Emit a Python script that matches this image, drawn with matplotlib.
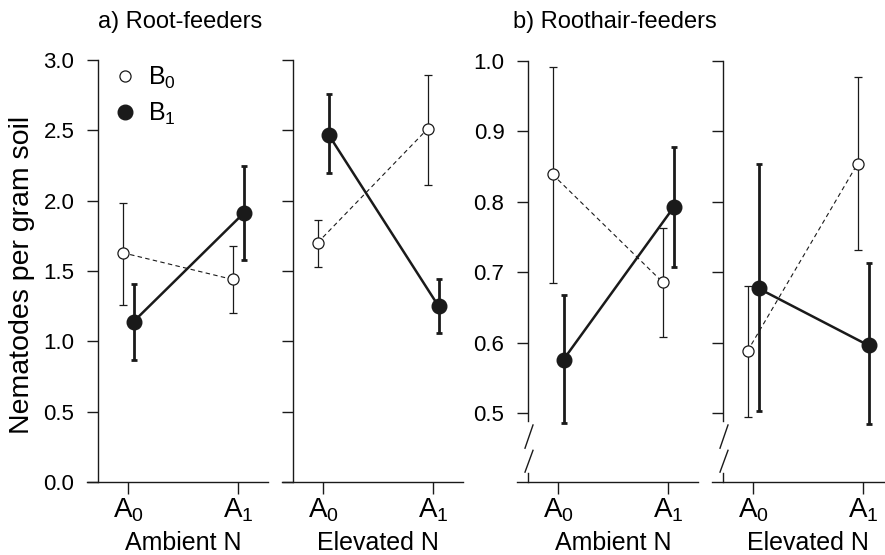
import matplotlib
matplotlib.use("Agg")
import matplotlib.pyplot as plt
from matplotlib.transforms import blended_transform_factory

plt.rcParams["font.family"] = ["Liberation Sans", "DejaVu Sans"]
plt.rcParams["mathtext.default"] = "regular"

# x levels (A0, A1) and panel labels
levels = [r"$A_0$", r"$A_1$"]
n_labels = ["Ambient N", "Elevated N"]

# Root-feeders: [ambient, elevated] x [A0, A1]
root_b0 = [[1.63, 1.44], [1.70, 2.51]]
root_b0_lo = [[1.26, 1.20], [1.53, 2.11]]
root_b0_hi = [[1.98, 1.68], [1.86, 2.89]]
root_b1 = [[1.14, 1.91], [2.47, 1.25]]
root_b1_lo = [[0.87, 1.58], [2.20, 1.06]]
root_b1_hi = [[1.41, 2.25], [2.76, 1.44]]

# Roothair-feeders
hair_b0 = [[0.839, 0.686], [0.588, 0.854]]
hair_b0_lo = [[0.685, 0.608], [0.494, 0.732]]
hair_b0_hi = [[0.992, 0.763], [0.681, 0.977]]
hair_b1 = [[0.576, 0.792], [0.677, 0.596]]
hair_b1_lo = [[0.486, 0.708], [0.503, 0.484]]
hair_b1_hi = [[0.668, 0.878], [0.854, 0.713]]

INK = "#1a1a1a"
W, H = 885, 555
fig = plt.figure(figsize=(W / 100, H / 100), dpi=100)

lefts = [87, 282, 517, 712]
tops = [60, 60, 61, 61]
bottom = 482
width = 181
spine_frac = 11 / width
off = 0.05


def draw_group(ax, mean, lo, hi, filled):
    x = [0 - off, 1 - off] if not filled else [0 + off, 1 + off]
    yerr = [[m - l for m, l in zip(mean, lo)], [h - m for m, h in zip(mean, hi)]]
    if filled:
        ax.errorbar(x, mean, yerr=yerr, fmt="none", ecolor=INK, elinewidth=2.0,
                    capsize=2.3, capthick=2.0, clip_on=False, zorder=2)
        ax.plot(x, mean, "-", color=INK, lw=1.8, marker="o", ms=10.5,
                mfc=INK, mec=INK, clip_on=False, zorder=3)
    else:
        ax.errorbar(x, mean, yerr=yerr, fmt="none", ecolor=INK, elinewidth=0.9,
                    capsize=3, capthick=0.9, clip_on=False, zorder=2)
        ax.plot(x, mean, "--", color=INK, lw=0.8, dashes=(4, 3), marker="o", ms=8,
                mfc="white", mec=INK, mew=0.9, clip_on=False, zorder=3)


axes = []
for i in range(4):
    ax = fig.add_axes([lefts[i] / W, 1 - bottom / H, width / W, (bottom - tops[i]) / H])
    axes.append(ax)
    ax.set_xlim(-0.373, -0.373 + width / 110)
    for s in ["top", "right"]:
        ax.spines[s].set_visible(False)
    for s in ["left", "bottom"]:
        ax.spines[s].set_color(INK)
        ax.spines[s].set_linewidth(1.0)
    ax.spines["left"].set_position(("axes", spine_frac))
    ax.set_xticks([0, 1])
    ax.set_xticklabels(levels, fontsize=20)
    ax.tick_params(axis="x", length=8.5, width=1.0, color=INK, pad=2)
    ax.tick_params(axis="y", length=8, width=1.0, color=INK, pad=9, labelsize=16)
    ax.set_xlabel(n_labels[i % 2], fontsize=18, labelpad=5)
    ax.xaxis.label.set_x((0.5 + 0.373) / (width / 110))
    ax.patch.set_visible(False)

    g = i % 2
    if i < 2:
        ax.set_ylim(0, 3.0)
        ax.set_yticks([0, 0.5, 1.0, 1.5, 2.0, 2.5, 3.0])
        ax.set_yticklabels(["0.0", "0.5", "1.0", "1.5", "2.0", "2.5", "3.0"])
        draw_group(ax, root_b0[g], root_b0_lo[g], root_b0_hi[g], False)
        draw_group(ax, root_b1[g], root_b1_lo[g], root_b1_hi[g], True)
    else:
        ax.set_ylim(0.402, 1.0)
        ax.set_yticks([0.5, 0.6, 0.7, 0.8, 0.9, 1.0])
        ax.set_yticklabels(["0.5", "0.6", "0.7", "0.8", "0.9", "1.0"])
        ax.spines["left"].set_bounds(0.488, 1.0)
        tr = blended_transform_factory(ax.transAxes, ax.transData)
        dl, dr = 3 / width, 5 / width
        ax.plot([spine_frac, spine_frac], [0.402, 0.415], color=INK, lw=1.0,
                transform=tr, clip_on=False)
        ax.plot([spine_frac - dl, spine_frac + dr], [0.450, 0.483], color=INK,
                lw=1.0, transform=tr, clip_on=False)
        ax.plot([spine_frac - dl, spine_frac + dr], [0.416, 0.447], color=INK,
                lw=1.0, transform=tr, clip_on=False)
        draw_group(ax, hair_b0[g], hair_b0_lo[g], hair_b0_hi[g], False)
        draw_group(ax, hair_b1[g], hair_b1_lo[g], hair_b1_hi[g], True)
    if g == 1:
        ax.set_yticklabels([])

# legend in first panel
h0, = axes[0].plot([], [], "o", ms=8, mfc="white", mec=INK, mew=0.9)
h1, = axes[0].plot([], [], "o", ms=10.5, mfc=INK, mec=INK)
axes[0].legend([h0, h1], [r"$B_0$", r"$B_1$"], loc="upper left",
               bbox_to_anchor=(0.06, 1.024), frameon=False, fontsize=18,
               handlelength=1.0, handletextpad=0.4, labelspacing=0.37,
               borderaxespad=0.2)

fig.text(98 / W, 1 - 22 / H, "a) Root-feeders", fontsize=17, va="center", ha="left")
fig.text(513 / W, 1 - 22 / H, "b) Roothair-feeders", fontsize=17, va="center", ha="left")
fig.text(22 / W, 1 - 275 / H, "Nematodes per gram soil", fontsize=20.5, rotation=90,
         va="center", ha="center")

fig.savefig("out.png", dpi=100)
